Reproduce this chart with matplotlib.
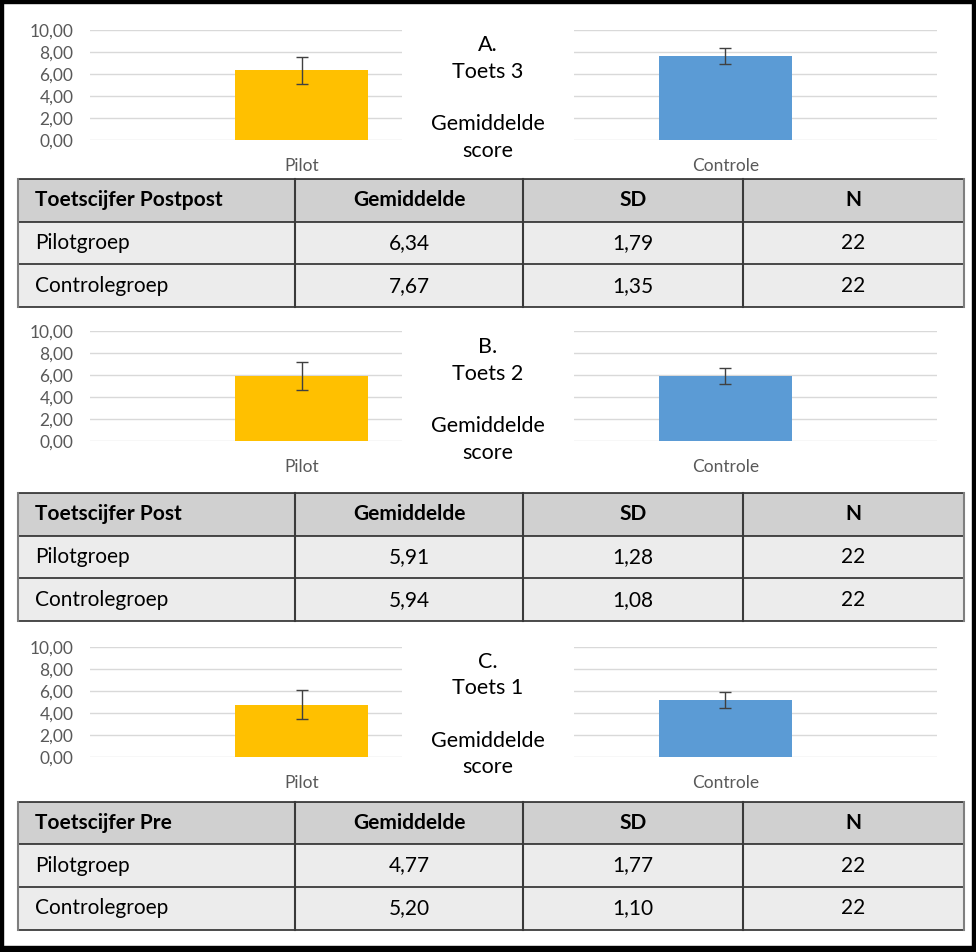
import matplotlib
matplotlib.use("Agg")
import matplotlib.pyplot as plt
from matplotlib.patches import Rectangle

plt.rcParams['font.family'] = ['Lato', 'DejaVu Sans']

#############################################################################
# Data
section_letters = ["A.", "B.", "C."]
test_names = ["Toets 3", "Toets 2", "Toets 1"]
table_titles = ["Toetscijfer Postpost", "Toetscijfer Post", "Toetscijfer Pre"]
col_headers = ["Gemiddelde", "SD", "N"]
bar_labels = ["Pilot", "Controle"]
group_names = ["Pilotgroep", "Controlegroep"]
bar_colors = ["#ffc000", "#5b9bd5"]

means = [[6.34, 7.67], [5.91, 5.94], [4.77, 5.20]]
sds = [[1.79, 1.35], [1.28, 1.08], [1.77, 1.10]]
ns = [[22, 22], [22, 22], [22, 22]]
err = [[1.27, 0.71], [1.28, 0.73], [1.33, 0.73]]

y_ticks = [0, 2, 4, 6, 8, 10]

#############################################################################
W, H = 976, 952
fig = plt.figure(figsize=(W / 100, H / 100), dpi=100)


def nl(v):
    return f"{v:.2f}".replace(".", ",")


def px_axes(x0, y0, x1, y1):
    return fig.add_axes([x0 / W, 1 - y1 / H, (x1 - x0) / W, (y1 - y0) / H])


# overlay axes in pixel coordinates for tables, text box and frame
bg = px_axes(0, 0, W, H)
bg.set_xlim(0, W)
bg.set_ylim(H, 0)
bg.axis("off")
bg.set_zorder(5)

grey_txt = "#595959"
chart_top = [30.3, 331.3, 647.3]
chart_bot = [140.0, 441.0, 757.3]
text_mid = [98, 400, 714.5]
table_top = [179, 493, 801.5]
row_h = 42.7
col_x = [18, 295, 523, 743, 964]

for s in range(3):
    ax = px_axes(90, chart_top[s], 937, chart_bot[s])
    ax.set_facecolor("none")
    ax.bar(range(2), means[s], width=0.314, color=bar_colors, zorder=3)
    ax.errorbar(range(2), means[s], yerr=err[s], fmt="none",
                ecolor="#404040", elinewidth=1, capsize=4.5, capthick=1,
                zorder=4)
    ax.set_xlim(-0.5, 1.5)
    ax.set_ylim(0, 10)
    ax.set_yticks(y_ticks)
    ax.set_yticklabels([nl(t) for t in y_ticks])
    ax.set_xticks(range(2))
    ax.set_xticklabels(bar_labels)
    ax.tick_params(axis="both", length=0, labelcolor=grey_txt, labelsize=12.5)
    ax.tick_params(axis="y", pad=12)
    ax.tick_params(axis="x", pad=13)
    ax.yaxis.grid(True, color="#d9d9d9", lw=1)
    ax.set_axisbelow(True)
    for sp in ax.spines.values():
        sp.set_visible(False)

    # white text box in the middle of the chart
    bg.add_patch(Rectangle((402, chart_top[s] - 4), 172,
                           chart_bot[s] - chart_top[s] + 8,
                           facecolor="white", edgecolor="none"))
    bg.text(488, text_mid[s],
            f"{section_letters[s]}\n{test_names[s]}\n\nGemiddelde\nscore",
            ha="center", va="center", fontsize=15.5, linespacing=1.4,
            color="black")

    # table
    t0 = table_top[s]
    bg.add_patch(Rectangle((col_x[0], t0), col_x[-1] - col_x[0], row_h,
                           facecolor="#d0d0d0", edgecolor="none"))
    bg.add_patch(Rectangle((col_x[0], t0 + row_h), col_x[-1] - col_x[0],
                           2 * row_h, facecolor="#ececec", edgecolor="none"))
    for r in range(4):
        bg.plot([col_x[0], col_x[-1]], [t0 + r * row_h] * 2, color="#1a1a1a",
                lw=1.1)
    for cx in col_x:
        c = "#7f7f7f" if cx in (col_x[0], col_x[-1]) else "#3a3a3a"
        bg.plot([cx, cx], [t0, t0 + 3 * row_h], color=c, lw=1.5)
    header = [table_titles[s]] + col_headers
    rows = [header]
    for g in range(2):
        rows.append([group_names[g], nl(means[s][g]), nl(sds[s][g]),
                     str(ns[s][g])])
    for r, row in enumerate(rows):
        yc = t0 + (r + 0.5) * row_h
        for c, val in enumerate(row):
            weight = "bold" if r == 0 else "normal"
            if c == 0:
                bg.text(35, yc, val, ha="left", va="center", fontsize=15,
                        fontweight=weight)
            else:
                bg.text((col_x[c] + col_x[c + 1]) / 2, yc, val, ha="center",
                        va="center", fontsize=15, fontweight=weight)

# outer black frame
bg.add_patch(Rectangle((0, 0), W, 3, color="black"))
bg.add_patch(Rectangle((0, 0), 3, H, color="black"))
bg.add_patch(Rectangle((W - 4, 0), 4, H, color="black"))
bg.add_patch(Rectangle((0, H - 6), W, 6, color="black"))

fig.savefig("out.png", dpi=100)
